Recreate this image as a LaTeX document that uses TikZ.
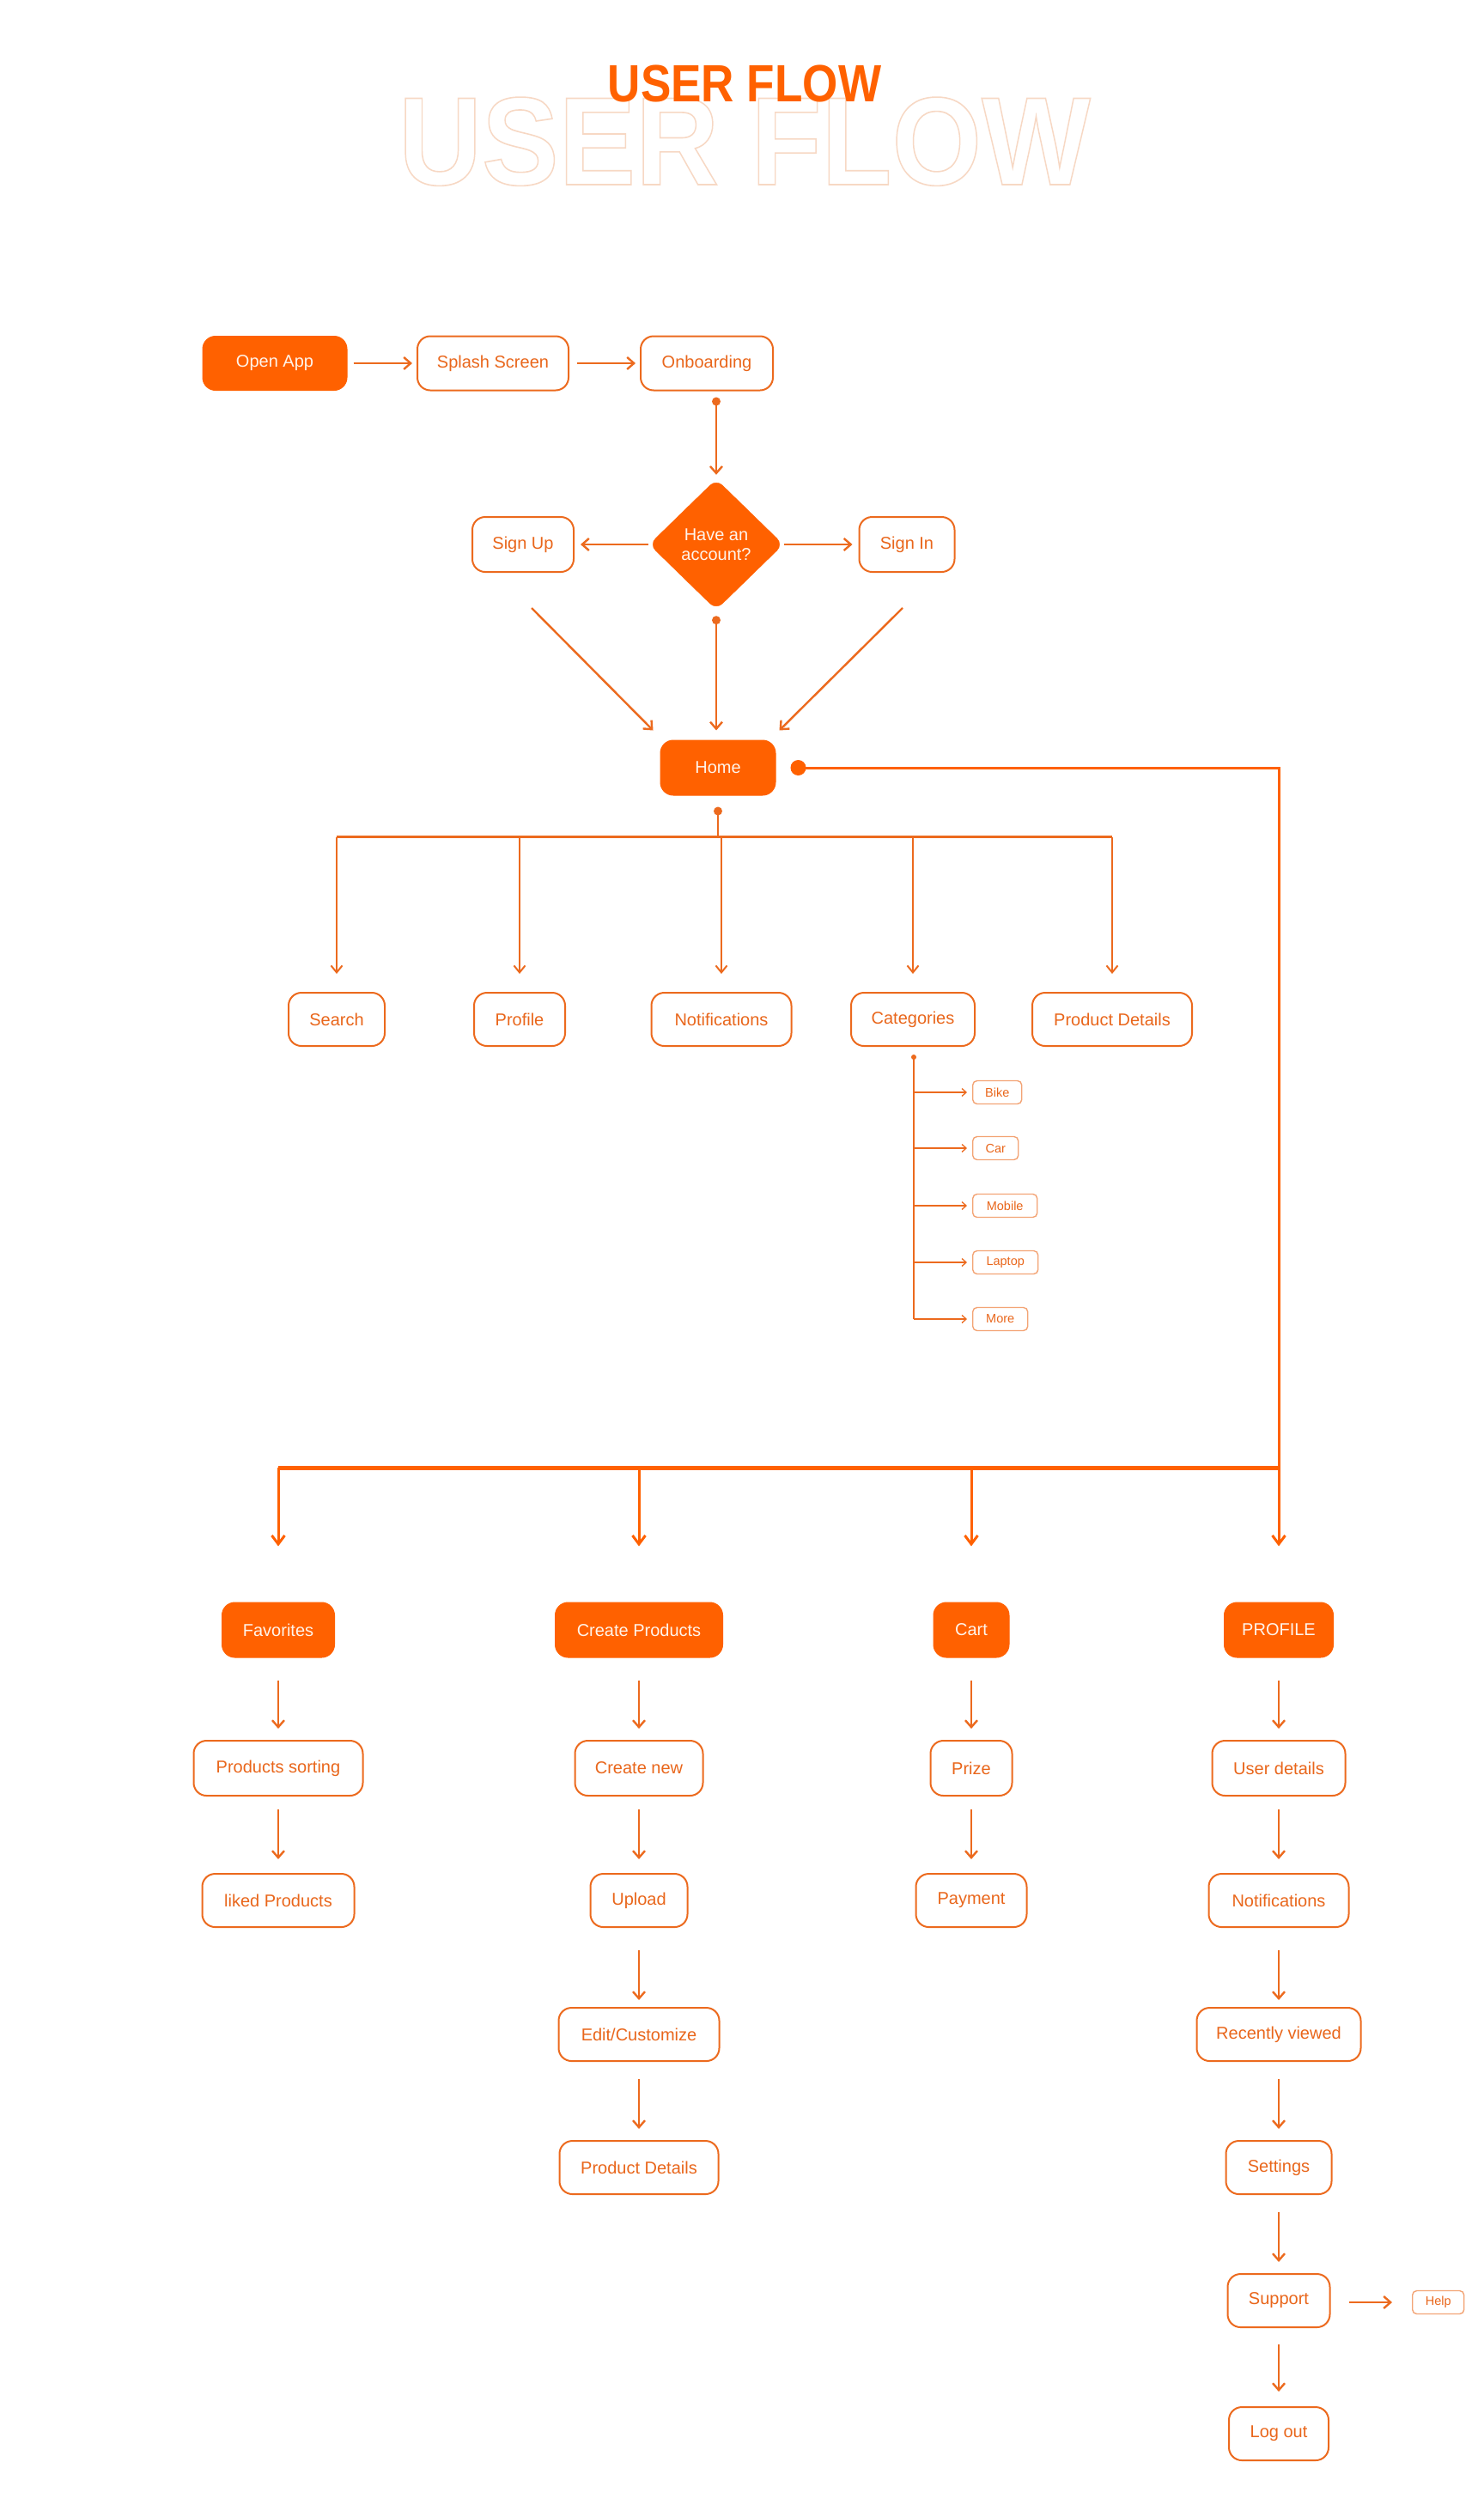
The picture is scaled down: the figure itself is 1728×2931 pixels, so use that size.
\documentclass[tikz,border=0pt]{standalone}
\usepackage{fontspec}
\setmainfont{Liberation Sans}
\usetikzlibrary{arrows.meta,shapes.geometric,calc}
\definecolor{ofill}{HTML}{FF6100}
\definecolor{oline}{HTML}{EC6A1E}
\definecolor{otext}{HTML}{E9661B}
\definecolor{olight}{HTML}{F3A475}
\definecolor{ghost}{HTML}{F7D8C4}
\definecolor{wtext}{HTML}{FFF4EA}
\tikzset{
  base/.style={rounded corners=15pt, inner sep=0pt, minimum height=63pt,
    font=\fontsize{20}{23}\selectfont},
  fbox/.style={base, draw=ofill, fill=ofill, text=wtext, line width=1pt},
  obox/.style={base, draw=oline, fill=white, text=otext, line width=2pt},
  sbox/.style={draw=olight, fill=white, rounded corners=5pt, text=otext, inner sep=0pt,
    minimum height=27pt, line width=1.4pt, font=\fontsize{14.5}{16}\selectfont},
  arr/.style={draw=oline, line width=2.4pt, -{Straight Barb[length=8pt,width=14pt]}},
  thinarr/.style={draw=oline, line width=2pt, -{Straight Barb[length=8pt,width=13pt]}},
  busarr/.style={draw=ofill, line width=3pt, -{Straight Barb[length=10pt,width=15pt]}},
  catarr/.style={draw=oline, line width=1.3pt, -{Straight Barb[length=5pt,width=9pt]}},
  dot/.style={fill=oline},
}
\begin{document}
\begin{tikzpicture}[x=1pt,y=-1pt]
\useasboundingbox (0,0) rectangle (1728,2931);
\fill[white] (0,0) rectangle (1728,2931);

% title
\node[font=\fontsize{146}{146}\selectfont\bfseries, text=ghost, xscale=0.92, anchor=base, inner sep=0pt] (ghosttitle) at (867,215)
  {\special{pdf:literal direct 1 Tr 1.6 w 0.969 0.847 0.769 RG}USER FLOW\special{pdf:literal direct 0 Tr}};
\node[font=\fontsize{61}{61}\selectfont\bfseries, text=ofill, xscale=0.87, anchor=base, inner sep=0pt] (title) at (867,118) {USER FLOW};

% row 1
\node[fbox, minimum width=168pt] (open) at (320,423) {Open App};
\node[obox, minimum width=176pt] (splash) at (574,423) {Splash Screen};
\node[obox, minimum width=154pt] (onb) at (823,423) {Onboarding};
\draw[arr, shorten <=7pt, shorten >=5pt] (open) -- (splash);
\draw[arr, shorten <=9pt, shorten >=5pt] (splash) -- (onb);

% decision
\node[diamond, fill=ofill, draw=ofill, rounded corners=10pt, minimum width=156pt, minimum height=152pt,
  inner sep=0pt, text=wtext, align=center, font=\fontsize{20}{23}\selectfont] (dia) at (834,634) {Have an\\account?};
\node[obox, minimum width=118pt, minimum height=64pt] (signup) at (609,634) {Sign Up};
\node[obox, minimum width=111pt, minimum height=64pt] (signin) at (1056,634) {Sign In};
\coordinate (d1) at ($(onb.south)+(11,12)$);
\fill[dot] (d1) circle[radius=5pt];
\draw[arr, shorten >=5pt] (d1) -- (d1 |- dia.north);
\draw[arr, shorten <=1pt, shorten >=7pt] (dia) -- (signup);
\draw[arr, shorten <=1pt, shorten >=7pt] (dia) -- (signin);

% home
\node[fbox, minimum width=134pt, minimum height=64pt] (home) at (836,894) {Home};
\coordinate (d2) at ($(dia.south)+(0,12)$);
\fill[dot] (d2) circle[radius=5pt];
\draw[arr, shorten >=11pt] (d2) -- (d2 |- home.north);
\draw[arr] ($(signup.south)+(10,41)$) -- ($(home.north west)+(-8,-11)$);
\draw[arr] ($(signin.south)+(-5,41)$) -- ($(home.north east)+(4,-11)$);

% home children
\node[obox, minimum width=112pt, minimum height=62pt] (search) at (392,1187) {Search};
\node[obox, minimum width=106pt, minimum height=62pt] (profile) at (605,1187) {Profile};
\node[obox, minimum width=163pt, minimum height=62pt] (notif) at (840,1187) {Notifications};
\node[obox, minimum width=144pt, minimum height=62pt] (cat) at (1063,1187) {Categories};
\node[obox, minimum width=186pt, minimum height=62pt] (pd1) at (1295,1187) {Product Details};
\coordinate (d3) at ($(home.south)+(0,18)$);
\coordinate (hb) at ($(d3)+(0,30)$);
\fill[dot] (d3) circle[radius=5pt];
\draw[oline, line width=2pt] (d3) -- (hb);
\draw[oline, line width=2.5pt] (search |- hb) -- (pd1 |- hb);
\foreach \n in {search,profile,notif,cat,pd1}
  \draw[thinarr, shorten >=21pt] (\n |- hb) -- (\n);

% categories
\node[sbox, anchor=west, minimum width=57pt] (bike) at (1132,1272) {Bike};
\node[sbox, anchor=west, minimum width=53pt] (car) at (1132,1337) {Car};
\node[sbox, anchor=west, minimum width=75pt] (mobile) at (1132,1404) {Mobile};
\node[sbox, anchor=west, minimum width=76pt] (laptop) at (1132,1470) {Laptop};
\node[sbox, anchor=west, minimum width=64pt] (more) at (1132,1536) {More};
\coordinate (cd) at ($(cat.south)+(1,12)$);
\fill[dot] (cd) circle[radius=3pt];
\draw[oline, line width=1.3pt] (cd) -- (cd |- more);
\foreach \n in {bike,car,mobile,laptop,more}
  \draw[catarr, shorten >=6pt] (cd |- \n) -- (\n);

% lower section
\node[fbox, minimum width=131pt, minimum height=64pt] (fav) at (324,1898) {Favorites};
\node[fbox, minimum width=195pt, minimum height=64pt] (cprod) at (744,1898) {Create Products};
\node[fbox, minimum width=88pt, minimum height=64pt] (cart) at (1131,1898) {Cart};
\node[fbox, minimum width=127pt, minimum height=64pt] (pprof) at (1489,1898) {PROFILE};

\coordinate (d4) at ($(home.east)+(26,0)$);
\fill[ofill] (d4) circle[radius=9pt];
\coordinate (bb) at (0,1709);
\draw[busarr, shorten >=65pt] (d4) -| (pprof);
\draw[ofill, line width=5pt] (fav |- bb) -- (pprof |- bb);
\foreach \n in {fav,cprod,cart}
  \draw[busarr, shorten >=65pt] (\n |- bb) -- (\n);

\node[obox, minimum width=197pt, minimum height=64pt] (psort) at (324,2059) {Products sorting};
\node[obox, minimum width=177pt, minimum height=62pt] (liked) at (324,2213) {liked Products};

\node[obox, minimum width=149pt, minimum height=64pt] (cnew) at (744,2059) {Create new};
\node[obox, minimum width=113pt, minimum height=62pt] (upload) at (744,2213) {Upload};
\node[obox, minimum width=187pt, minimum height=62pt] (edit) at (744,2369) {Edit/Customize};
\node[obox, minimum width=185pt, minimum height=62pt] (pd2) at (744,2524) {Product Details};

\node[obox, minimum width=95pt, minimum height=64pt] (prize) at (1131,2059) {Prize};
\node[obox, minimum width=129pt, minimum height=62pt] (payment) at (1131,2213) {Payment};

\node[obox, minimum width=155pt, minimum height=64pt] (udet) at (1489,2059) {User details};
\node[obox, minimum width=163pt, minimum height=62pt] (notif2) at (1489,2213) {Notifications};
\node[obox, minimum width=191pt, minimum height=62pt] (recent) at (1489,2369) {Recently viewed};
\node[obox, minimum width=123pt, minimum height=62pt] (settings) at (1489,2524) {Settings};
\node[obox, minimum width=119pt, minimum height=62pt] (support) at (1489,2679) {Support};
\node[obox, minimum width=116pt, minimum height=62pt] (logout) at (1489,2834) {Log out};
\node[sbox, anchor=west, minimum width=60pt] (help) at (1644,2681) {Help};

\foreach \a/\b in {fav/psort,cprod/cnew,cart/prize,pprof/udet}
  \draw[arr, shorten <=26pt, shorten >=13pt] (\a) -- (\b);
\foreach \a/\b in {psort/liked,cnew/upload,prize/payment,udet/notif2}
  \draw[arr, shorten <=15pt, shorten >=16pt] (\a) -- (\b);
\foreach \a/\b in {upload/edit,notif2/recent}
  \draw[arr, shorten <=26pt, shorten >=8pt] (\a) -- (\b);
\foreach \a/\b in {edit/pd2,recent/settings,settings/support}
  \draw[arr, shorten <=20pt, shorten >=13pt] (\a) -- (\b);
\draw[arr, shorten <=19pt, shorten >=17pt] (support) -- (logout);
\draw[arr, shorten <=21pt, shorten >=23pt] (support.east |- help) -- (help);
\end{tikzpicture}
\end{document}
